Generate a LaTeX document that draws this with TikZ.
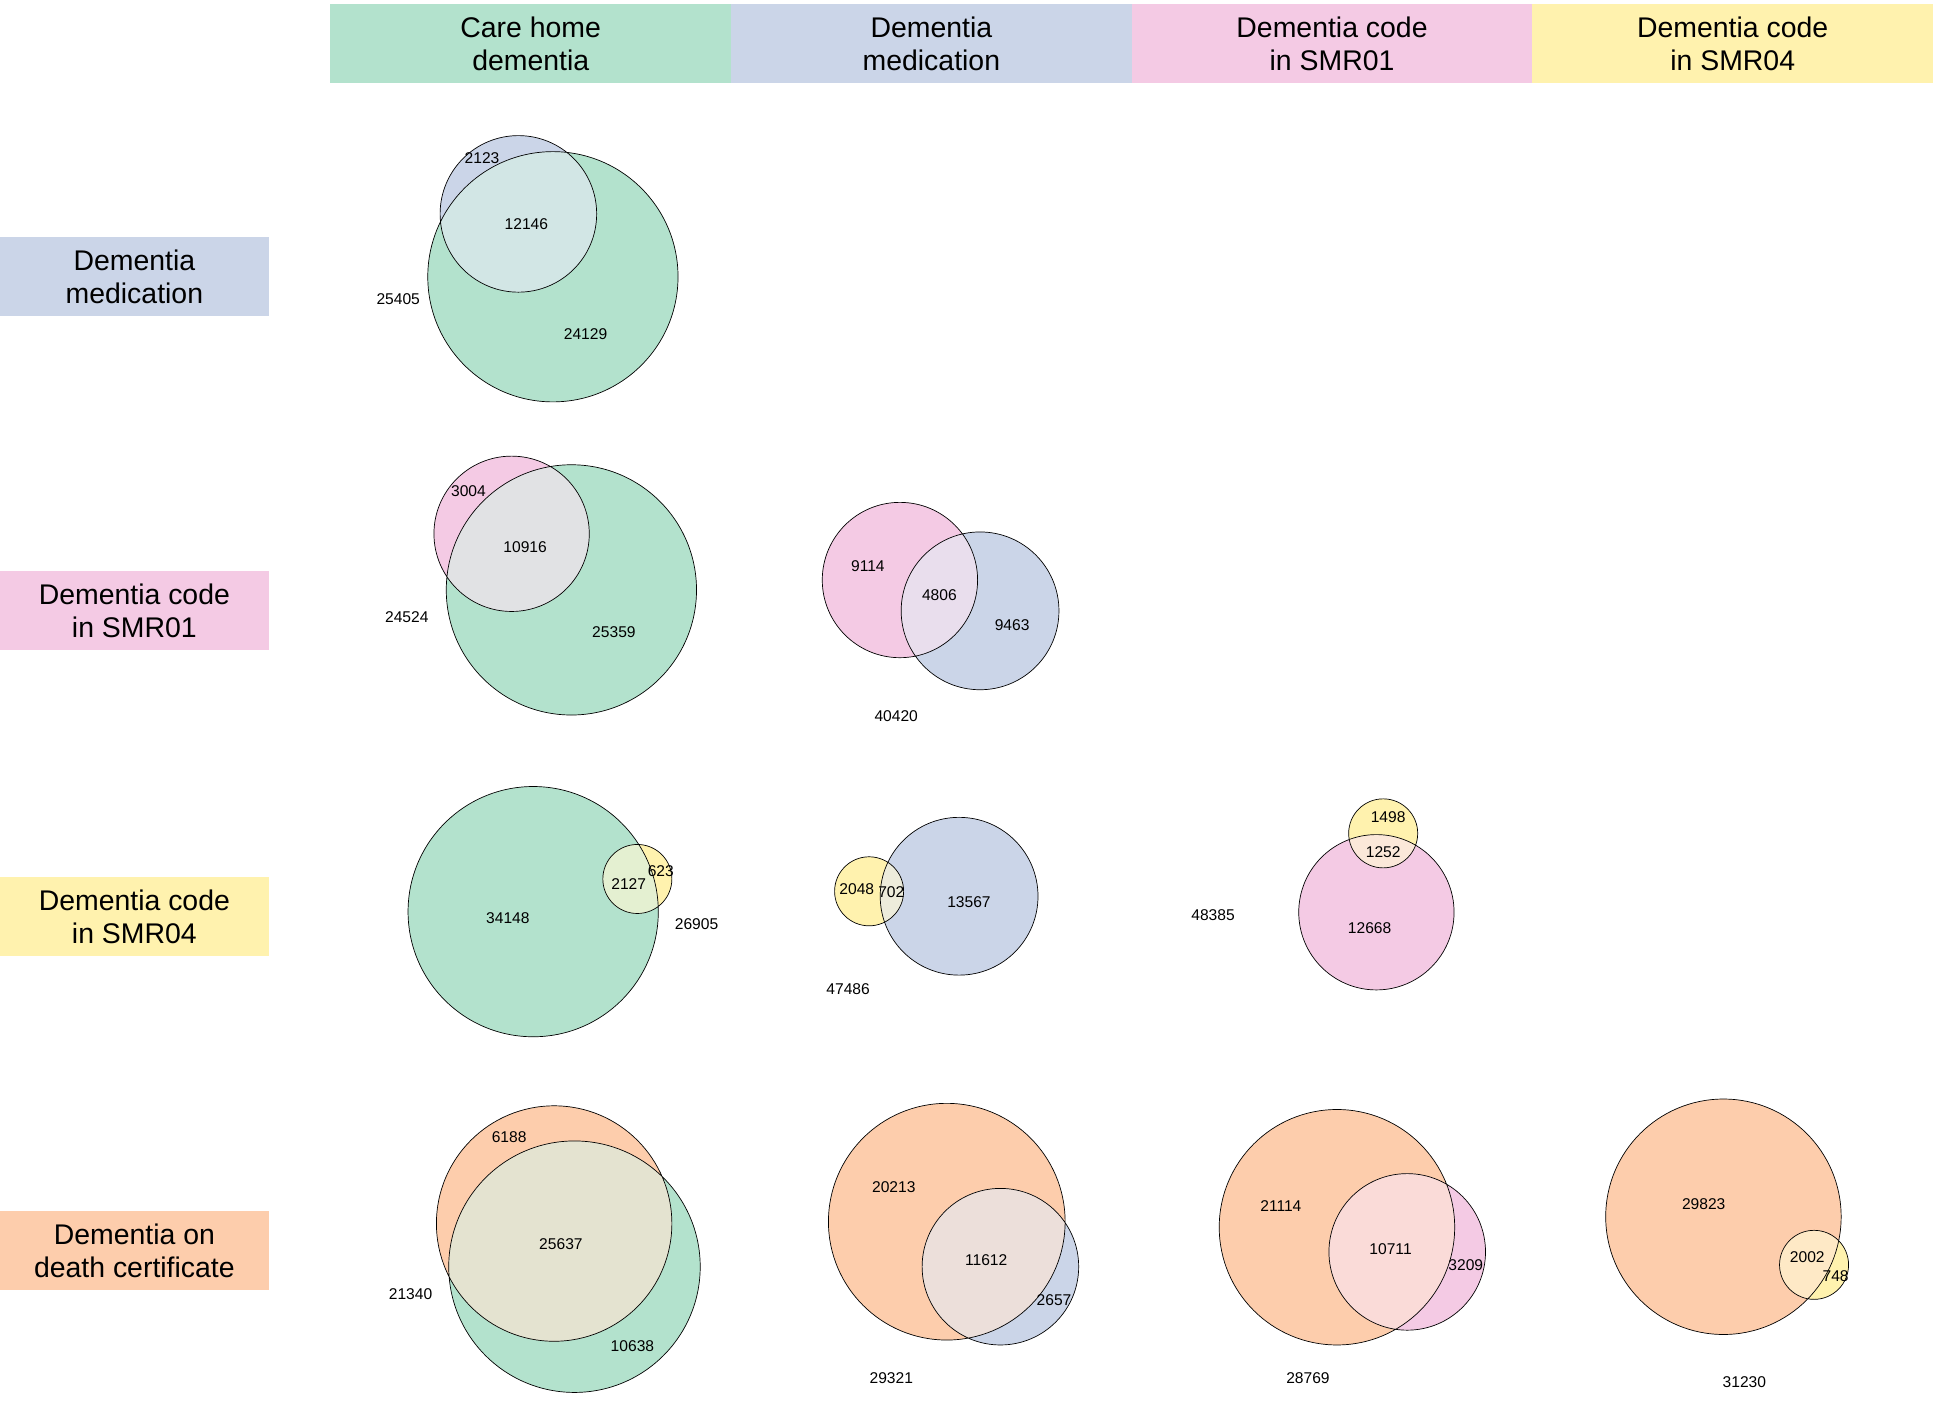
\documentclass[tikz,border=0pt]{standalone}
\usepackage{fontspec}
\setmainfont{Liberation Sans}
\usepackage{tikz}
\usepackage{xcolor}
\usetikzlibrary{positioning}

\definecolor{care}{HTML}{B3E2CD}
\definecolor{med}{HTML}{CBD5E8}
\definecolor{smrone}{HTML}{F4CAE4}
\definecolor{smrfour}{HTML}{FFF2AE}
\definecolor{death}{HTML}{FDCDAC}

\tikzset{
    head-box/.style = {rectangle, inner sep=0pt, minimum width=81.25mm, minimum height=16mm, align=center, font=\fontsize{16.4}{19.3}\selectfont},
    row-box/.style = {rectangle, inner sep=0pt, minimum width=54.5mm, minimum height=16mm, align=center, font=\fontsize{16.4}{19.3}\selectfont},
    count/.style = {inner sep=0pt, font=\fontsize{9}{10}\selectfont},
    venn-line/.style = {draw=black, line width=0.4pt},
}

% two overlapping sets: centre, radius, colour of each
\newcommand{\venntwo}[6]{
    \fill[#3] #1 circle (#2);
    \fill[#6] #4 circle (#5);
    \begin{scope}
        \clip #1 circle (#2);
        \fill[#3!50!#6!70!white] #4 circle (#5);
    \end{scope}
    \draw[venn-line] #1 circle (#2) #4 circle (#5);
}

\begin{document}
\begin{tikzpicture}[x=0.25mm, y=-0.25mm]
\useasboundingbox (0,0) rectangle (1568,1136);

% column headers
\node[head-box, fill=care] (h-care) at (430.5,35.5) {Care home\\dementia};
\node[head-box, fill=med, right=-0.4pt of h-care] (h-med) {Dementia\\medication};
\node[head-box, fill=smrone, right=-0.4pt of h-med] (h-smrone) {Dementia code\\in SMR01};
\node[head-box, fill=smrfour, right=-0.4pt of h-smrone] (h-smrfour) {Dementia code\\in SMR04};

% row labels
\node[row-box, fill=med] (r-med) at (109,224.5) {Dementia\\medication};
\node[row-box, fill=smrone] (r-smrone) at (109,495.5) {Dementia code\\in SMR01};
\node[row-box, fill=smrfour] (r-smrfour) at (109,743.5) {Dementia code\\in SMR04};
\node[row-box, fill=death] (r-death) at (109,1014.5) {Dementia on\\death certificate};

% medication x care home
\venntwo{(448.5,224.5)}{101.5}{care}{(420.5,173.5)}{63.5}{med}
\node[count] (med-care-a) at (391,128) {2123};
\node[count] (med-care-ab) at (427,182) {12146};
\node[count] (med-care-b) at (475,271) {24129};
\node[count] (med-care-out) at (323,243) {25405};

% SMR01 x care home
\venntwo{(463.5,478.5)}{101.5}{care}{(415,433)}{63}{smrone}
\node[count] (one-care-a) at (380,398) {3004};
\node[count] (one-care-ab) at (426,444) {10916};
\node[count] (one-care-b) at (498,513) {25359};
\node[count] (one-care-out) at (330,501) {24524};

% SMR01 x medication
\venntwo{(730,470.5)}{63}{smrone}{(795,495.5)}{64}{med}
\node[count] (one-med-a) at (704,459) {9114};
\node[count] (one-med-ab) at (762,483) {4806};
\node[count] (one-med-b) at (821,507) {9463};
\node[count] (one-med-out) at (727,581) {40420};

% SMR04 x care home
\venntwo{(432.5,739.5)}{101.5}{care}{(517,713)}{28}{smrfour}
\node[count] (four-care-b) at (412,745) {34148};
\node[count] (four-care-ab) at (510,717) {2127};
\node[count] (four-care-a) at (536,707) {623};
\node[count] (four-care-out) at (565,750) {26905};

% SMR04 x medication
\venntwo{(778,727)}{64}{med}{(705,723)}{28}{smrfour}
\node[count] (four-med-a) at (695,721) {2048};
\node[count] (four-med-ab) at (723,724) {702};
\node[count] (four-med-b) at (786,732) {13567};
\node[count] (four-med-out) at (688,802) {47486};

% SMR04 x SMR01
\venntwo{(1116.5,740)}{63}{smrone}{(1122,676)}{28}{smrfour}
\node[count] (four-one-a) at (1126,663) {1498};
\node[count] (four-one-ab) at (1122,691) {1252};
\node[count] (four-one-b) at (1111,753) {12668};
\node[count] (four-one-out) at (984,742) {48385};

% death certificate x care home
\venntwo{(466,1027.5)}{102}{care}{(449.5,992.5)}{95.5}{death}
\node[count] (dth-care-a) at (413,922) {6188};
\node[count] (dth-care-ab) at (455,1009) {25637};
\node[count] (dth-care-b) at (513,1092) {10638};
\node[count] (dth-care-out) at (333,1050) {21340};

% death certificate x medication
\venntwo{(768,991)}{96}{death}{(811.5,1027.5)}{63.5}{med}
\node[count] (dth-med-a) at (725,963) {20213};
\node[count] (dth-med-ab) at (800,1022) {11612};
\node[count] (dth-med-b) at (855,1055) {2657};
\node[count] (dth-med-out) at (723,1118) {29321};

% death certificate x SMR01
\venntwo{(1084.5,995.5)}{95.5}{death}{(1141.5,1015.5)}{63.5}{smrone}
\node[count] (dth-one-a) at (1039,978) {21114};
\node[count] (dth-one-ab) at (1128,1013) {10711};
\node[count] (dth-one-b) at (1189,1026) {3209};
\node[count] (dth-one-out) at (1061,1118) {28769};

% death certificate x SMR04
\venntwo{(1398,987)}{95.5}{death}{(1471.5,1026)}{28}{smrfour}
\node[count] (dth-four-a) at (1382,977) {29823};
\node[count] (dth-four-ab) at (1466,1020) {2002};
\node[count] (dth-four-b) at (1489,1035) {748};
\node[count] (dth-four-out) at (1415,1121) {31230};
\end{tikzpicture}
\end{document}
